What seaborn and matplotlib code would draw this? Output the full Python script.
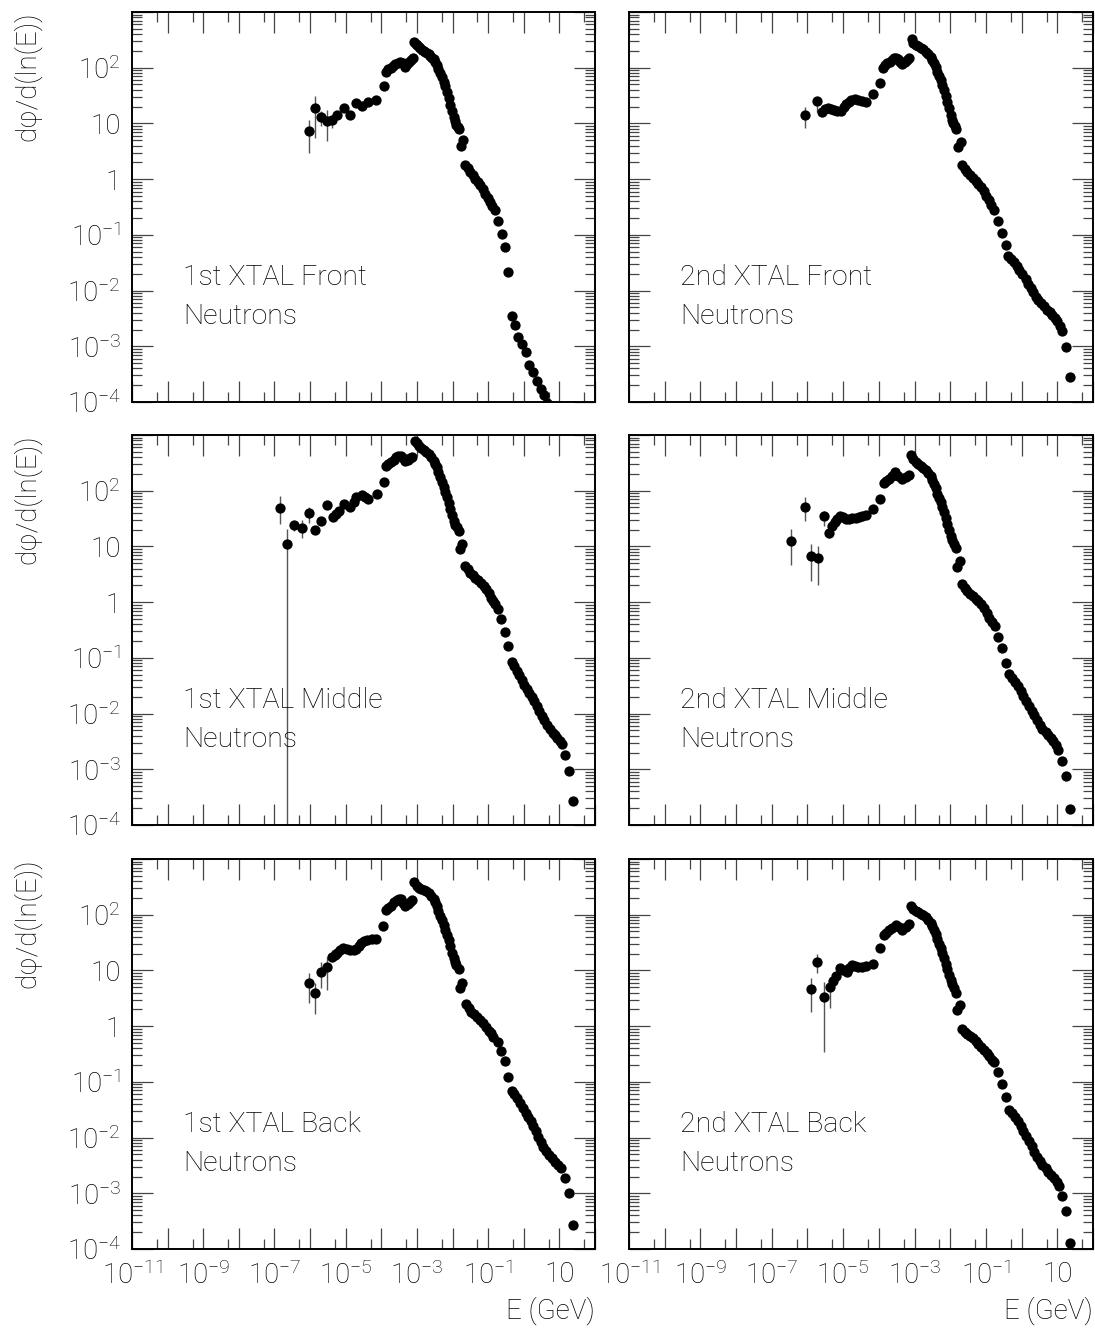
import numpy as np
import matplotlib
matplotlib.use("Agg")
import matplotlib.pyplot as plt
import matplotlib.ticker as mticker
import seaborn as sns

# Values as log10(E / GeV) and log10(dphi/dlnE)

# 1st XTAL Front
tl_logE = [-6.04, -5.85, -5.69, -5.52, -5.38, -5.24, -5.06, -4.87, -4.70, -4.54, -4.36, -4.14,
           -3.93, -3.86, -3.80, -3.73, -3.67, -3.61, -3.54, -3.47, -3.40, -3.33, -3.27, -3.21,
           -3.16, -3.11, -3.07, -3.03, -2.99, -2.95, -2.90, -2.85, -2.81, -2.76, -2.71, -2.67,
           -2.62, -2.57, -2.53, -2.48, -2.44, -2.40, -2.35, -2.30, -2.25, -2.21, -2.16, -2.11,
           -2.07, -2.02, -1.97, -1.93, -1.90, -1.86, -1.82, -1.72, -1.76, -1.64, -1.57, -1.50,
           -1.43, -1.36, -1.29, -1.22, -1.15, -1.08, -1.01, -0.94, -0.88, -0.82, -0.71, -0.62,
           -0.52, -0.45, -0.34, -0.24, -0.15, -0.05, 0.05, 0.16, 0.27, 0.36, 0.48, 0.57, 0.66]
tl_logF = [0.87, 1.27, 1.12, 1.04, 1.06, 1.15, 1.28, 1.16, 1.36, 1.32, 1.38, 1.42,
           1.68, 1.93, 1.97, 2.00, 2.03, 2.06, 2.09, 2.11, 2.08, 2.02, 2.07, 2.11,
           2.14, 2.17, 2.46, 2.42, 2.40, 2.38, 2.35, 2.32, 2.30, 2.28, 2.26, 2.24,
           2.21, 2.18, 2.15, 2.11, 2.05, 1.98, 1.90, 1.83, 1.75, 1.67, 1.57, 1.45,
           1.33, 1.23, 1.12, 1.04, 0.97, 0.93, 0.90, 0.70, 0.59, 0.26, 0.20, 0.13,
           0.07, 0.01, -0.05, -0.11, -0.18, -0.26, -0.33, -0.41, -0.48, -0.56, -0.75, -0.98,
           -1.21, -1.66, -2.46, -2.62, -2.84, -2.96, -3.10, -3.34, -3.46, -3.63, -3.76, -3.88, -4.02]
tl_err_logE = [-6.04, -5.85, -5.69, -5.52, -5.38]
tl_err_lo = [0.47, 0.73, 0.95, 0.68, 0.91]
tl_err_hi = [1.07, 1.50, 1.22, 1.24, 1.15]

# 2nd XTAL Front
tr_logE = [-6.07, -5.72, -5.59, -5.50, -5.42, -5.34, -5.26, -5.16, -5.07, -4.99, -4.93, -4.85,
           -4.77, -4.67, -4.58, -4.47, -4.37, -4.16, -3.97, -3.89, -3.83, -3.77, -3.70, -3.64,
           -3.58, -3.53, -3.46, -3.40, -3.35, -3.28, -3.22, -3.16, -3.08, -3.03, -2.97, -2.90,
           -2.83, -2.76, -2.69, -2.62, -2.55, -2.50, -2.46, -2.41, -2.36, -2.32, -2.27, -2.22,
           -2.18, -2.13, -2.08, -2.03, -1.99, -1.95, -1.92, -1.87, -1.83, -1.71, -1.78, -1.68,
           -1.60, -1.52, -1.44, -1.36, -1.28, -1.21, -1.13, -1.06, -0.99, -0.92, -0.85, -0.77,
           -0.67, -0.56, -0.45, -0.37, -0.29, -0.21, -0.13, -0.06, 0.02, 0.11, 0.18, 0.25,
           0.32, 0.39, 0.46, 0.53, 0.62, 0.72, 0.79, 0.86, 0.93, 1.00, 1.07, 1.14, 1.23, 1.35]
tr_logF = [1.15, 1.40, 1.21, 1.25, 1.27, 1.25, 1.24, 1.23, 1.22, 1.29, 1.34, 1.38,
           1.42, 1.43, 1.42, 1.41, 1.39, 1.53, 1.72, 2.00, 2.04, 2.08, 2.11, 2.14,
           2.17, 2.18, 2.16, 2.10, 2.06, 2.11, 2.14, 2.17, 2.51, 2.44, 2.41, 2.39,
           2.36, 2.33, 2.29, 2.25, 2.20, 2.14, 2.08, 2.01, 1.93, 1.86, 1.78, 1.69,
           1.60, 1.50, 1.39, 1.27, 1.15, 1.07, 1.00, 0.95, 0.90, 0.67, 0.58, 0.25,
           0.19, 0.13, 0.08, 0.02, -0.03, -0.08, -0.15, -0.22, -0.30, -0.38, -0.47, -0.56,
           -0.76, -0.96, -1.19, -1.38, -1.43, -1.49, -1.56, -1.63, -1.71, -1.80, -1.88, -1.96,
           -2.03, -2.11, -2.17, -2.23, -2.28, -2.34, -2.38, -2.43, -2.49, -2.55, -2.63, -2.73, -3.01, -3.56]
tr_err_logE = [-6.07, -5.72]
tr_err_lo = [0.91, 1.21]
tr_err_hi = [1.30, 1.45]

# 1st XTAL Middle
ml_logE = [-6.85, -6.64, -6.44, -6.22, -6.04, -5.87, -5.69, -5.52, -5.37, -5.28, -5.20, -5.06,
           -4.87, -4.78, -4.70, -4.54, -4.45, -4.36, -4.12, -3.93, -3.86, -3.80, -3.73, -3.65,
           -3.58, -3.52, -3.45, -3.39, -3.33, -3.26, -3.20, -3.14, -3.05, -3.00, -2.95, -2.88,
           -2.81, -2.74, -2.67, -2.60, -2.53, -2.48, -2.44, -2.40, -2.35, -2.30, -2.25, -2.21,
           -2.16, -2.11, -2.07, -2.02, -1.97, -1.92, -1.88, -1.82, -1.74, -1.78, -1.64, -1.57,
           -1.50, -1.43, -1.36, -1.28, -1.21, -1.13, -1.06, -0.99, -0.93, -0.86, -0.80, -0.71,
           -0.63, -0.54, -0.45, -0.34, -0.27, -0.20, -0.13, -0.06, 0.01, 0.08, 0.15, 0.22,
           0.29, 0.36, 0.43, 0.50, 0.58, 0.66, 0.73, 0.81, 0.88, 0.94, 1.01, 1.07, 1.16, 1.28, 1.37]
ml_logF = [1.69, 1.05, 1.39, 1.33, 1.60, 1.30, 1.46, 1.74, 1.52, 1.58, 1.63, 1.76,
           1.71, 1.80, 1.89, 1.93, 1.88, 1.85, 1.95, 2.16, 2.45, 2.48, 2.51, 2.56,
           2.60, 2.62, 2.63, 2.58, 2.53, 2.56, 2.58, 2.60, 2.90, 2.85, 2.81, 2.77,
           2.73, 2.70, 2.66, 2.60, 2.54, 2.48, 2.42, 2.33, 2.24, 2.15, 2.06, 1.97,
           1.88, 1.78, 1.67, 1.56, 1.46, 1.39, 1.34, 1.28, 1.04, 0.95, 0.65, 0.59,
           0.53, 0.48, 0.43, 0.39, 0.34, 0.29, 0.23, 0.16, 0.08, 0.02, -0.04, -0.13,
           -0.31, -0.53, -0.78, -1.08, -1.15, -1.23, -1.31, -1.40, -1.48, -1.56, -1.63, -1.71,
           -1.78, -1.86, -1.95, -2.04, -2.12, -2.20, -2.27, -2.34, -2.39, -2.44, -2.50, -2.55, -2.74, -3.03, -3.57]
ml_err_logE = [-6.85, -6.64, -6.44, -6.22, -6.04]
ml_err_lo = [1.40, -6.00, 1.28, 1.15, 1.42]
ml_err_hi = [1.91, 1.31, 1.46, 1.47, 1.70]

# 2nd XTAL Middle
mr_logE = [-6.45, -6.07, -5.89, -5.70, -5.54, -5.40, -5.32, -5.24, -5.16, -5.09, -5.00, -4.92,
           -4.83, -4.75, -4.65, -4.56, -4.47, -4.37, -4.16, -3.97, -3.86, -3.79, -3.72, -3.63,
           -3.55, -3.45, -3.35, -3.25, -3.16, -3.10, -3.03, -2.97, -2.90, -2.83, -2.76, -2.69,
           -2.62, -2.55, -2.50, -2.46, -2.41, -2.36, -2.32, -2.27, -2.22, -2.18, -2.13, -2.08,
           -2.03, -1.99, -1.94, -1.90, -1.83, -1.73, -1.81, -1.68, -1.60, -1.52, -1.44, -1.36,
           -1.28, -1.21, -1.13, -1.06, -0.98, -0.90, -0.83, -0.75, -0.65, -0.54, -0.45, -0.36,
           -0.28, -0.19, -0.11, -0.03, 0.05, 0.13, 0.20, 0.28, 0.36, 0.44, 0.51, 0.58,
           0.67, 0.75, 0.82, 0.88, 0.96, 1.03, 1.14, 1.23, 1.35]
mr_logF = [1.10, 1.71, 0.83, 0.79, 1.54, 1.25, 1.36, 1.43, 1.50, 1.55, 1.52, 1.49,
           1.50, 1.51, 1.51, 1.52, 1.54, 1.57, 1.67, 1.85, 2.13, 2.17, 2.21, 2.27,
           2.33, 2.27, 2.21, 2.25, 2.29, 2.65, 2.57, 2.51, 2.48, 2.45, 2.41, 2.37,
           2.32, 2.27, 2.20, 2.12, 2.04, 1.95, 1.87, 1.79, 1.70, 1.61, 1.51, 1.40,
           1.29, 1.19, 1.11, 1.04, 0.97, 0.73, 0.63, 0.32, 0.26, 0.20, 0.15, 0.11,
           0.06, 0.02, -0.04, -0.11, -0.19, -0.28, -0.35, -0.43, -0.62, -0.83, -1.09, -1.29,
           -1.37, -1.44, -1.51, -1.59, -1.68, -1.78, -1.86, -1.95, -2.03, -2.12, -2.20, -2.28,
           -2.33, -2.38, -2.43, -2.49, -2.57, -2.66, -2.86, -3.12, -3.72]
mr_err_logE = [-6.45, -6.07, -5.89, -5.70, -5.54, -5.40]
mr_err_lo = [0.67, 1.45, 0.38, 0.30, 1.37, 1.16]
mr_err_hi = [1.31, 1.88, 1.04, 1.01, 1.64, 1.33]

# 1st XTAL Back
bl_logE = [-6.04, -5.87, -5.69, -5.52, -5.38, -5.31, -5.24, -5.15, -5.07, -4.97, -4.87, -4.78,
           -4.70, -4.63, -4.57, -4.48, -4.40, -4.27, -4.14, -3.95, -3.86, -3.80, -3.73, -3.64,
           -3.56, -3.50, -3.44, -3.38, -3.33, -3.26, -3.20, -3.14, -3.07, -3.01, -2.95, -2.88,
           -2.81, -2.74, -2.67, -2.60, -2.53, -2.48, -2.44, -2.40, -2.35, -2.30, -2.25, -2.21,
           -2.16, -2.11, -2.07, -2.02, -1.97, -1.93, -1.90, -1.83, -1.74, -1.78, -1.62, -1.55,
           -1.48, -1.40, -1.32, -1.23, -1.15, -1.07, -0.99, -0.92, -0.85, -0.73, -0.64, -0.54,
           -0.45, -0.34, -0.27, -0.20, -0.11, -0.03, 0.05, 0.13, 0.20, 0.27, 0.34, 0.41,
           0.48, 0.55, 0.63, 0.72, 0.80, 0.88, 0.96, 1.04, 1.17, 1.27, 1.37]
bl_logF = [0.78, 0.59, 0.98, 1.06, 1.24, 1.28, 1.31, 1.36, 1.40, 1.39, 1.37, 1.37,
           1.38, 1.44, 1.50, 1.53, 1.55, 1.56, 1.56, 1.80, 2.09, 2.12, 2.16, 2.22,
           2.27, 2.28, 2.28, 2.21, 2.15, 2.20, 2.23, 2.26, 2.58, 2.52, 2.48, 2.46,
           2.44, 2.42, 2.39, 2.34, 2.28, 2.22, 2.15, 2.07, 1.98, 1.90, 1.82, 1.73,
           1.64, 1.54, 1.43, 1.32, 1.22, 1.15, 1.10, 1.02, 0.77, 0.69, 0.40, 0.33,
           0.26, 0.21, 0.16, 0.11, 0.05, -0.01, -0.08, -0.13, -0.19, -0.28, -0.44, -0.63,
           -0.92, -1.16, -1.22, -1.29, -1.38, -1.47, -1.55, -1.63, -1.71, -1.80, -1.89, -1.99,
           -2.08, -2.17, -2.24, -2.31, -2.37, -2.43, -2.49, -2.55, -2.73, -3.00, -3.57]
bl_err_logE = [-6.04, -5.87, -5.69, -5.52, -5.38]
bl_err_lo = [0.41, 0.22, 0.68, 0.64, 1.16]
bl_err_hi = [0.95, 0.77, 1.16, 1.25, 1.37]

# 2nd XTAL Back
br_logE = [-5.89, -5.72, -5.54, -5.38, -5.29, -5.21, -5.09, -5.00, -4.90, -4.83, -4.75, -4.67,
           -4.58, -4.48, -4.37, -4.16, -3.97, -3.86, -3.79, -3.72, -3.62, -3.53, -3.44, -3.35,
           -3.25, -3.16, -3.10, -3.03, -2.97, -2.90, -2.83, -2.76, -2.69, -2.62, -2.55, -2.50,
           -2.46, -2.41, -2.36, -2.32, -2.27, -2.22, -2.18, -2.13, -2.08, -2.03, -1.99, -1.94,
           -1.90, -1.83, -1.73, -1.80, -1.68, -1.60, -1.52, -1.44, -1.36, -1.28, -1.21, -1.13,
           -1.06, -0.98, -0.90, -0.83, -0.77, -0.66, -0.55, -0.45, -0.36, -0.27, -0.19, -0.11,
           -0.03, 0.05, 0.13, 0.20, 0.28, 0.36, 0.44, 0.51, 0.58, 0.67, 0.75, 0.83,
           0.91, 0.98, 1.05, 1.14, 1.23, 1.35]
br_logF = [0.66, 1.16, 0.53, 0.71, 0.81, 0.90, 1.04, 1.01, 0.98, 1.04, 1.10, 1.08,
           1.06, 1.07, 1.08, 1.12, 1.40, 1.64, 1.68, 1.72, 1.77, 1.82, 1.78, 1.73,
           1.78, 1.84, 2.16, 2.10, 2.06, 2.04, 2.02, 1.99, 1.96, 1.91, 1.86, 1.80,
           1.73, 1.65, 1.56, 1.48, 1.40, 1.31, 1.22, 1.12, 1.02, 0.92, 0.83, 0.75,
           0.68, 0.60, 0.38, 0.29, -0.05, -0.10, -0.14, -0.18, -0.22, -0.27, -0.32, -0.37,
           -0.43, -0.48, -0.54, -0.60, -0.65, -0.83, -1.04, -1.28, -1.50, -1.56, -1.63, -1.71,
           -1.80, -1.89, -1.98, -2.07, -2.16, -2.25, -2.34, -2.42, -2.49, -2.55, -2.61, -2.67,
           -2.73, -2.80, -2.87, -3.05, -3.31, -3.89]
br_err_logE = [-5.89, -5.72, -5.54, -5.38]
br_err_lo = [0.25, 0.95, -0.47, 0.32]
br_err_hi = [0.86, 1.30, 0.80, 0.89]

panel_titles = ["1st XTAL Front", "2nd XTAL Front", "1st XTAL Middle",
                "2nd XTAL Middle", "1st XTAL Back", "2nd XTAL Back"]
particle = "Neutrons"

x_tick_labels = [r"$10^{-11}$", "", r"$10^{-9}$", "", r"$10^{-7}$", "", r"$10^{-5}$", "",
                 r"$10^{-3}$", "", r"$10^{-1}$", "", "10", ""]
y_tick_labels = [r"$10^{-4}$", r"$10^{-3}$", r"$10^{-2}$", r"$10^{-1}$", "1", "10", r"$10^{2}$", ""]

panels = [
    (tl_logE, tl_logF, tl_err_logE, tl_err_lo, tl_err_hi),
    (tr_logE, tr_logF, tr_err_logE, tr_err_lo, tr_err_hi),
    (ml_logE, ml_logF, ml_err_logE, ml_err_lo, ml_err_hi),
    (mr_logE, mr_logF, mr_err_logE, mr_err_lo, mr_err_hi),
    (bl_logE, bl_logF, bl_err_logE, bl_err_lo, bl_err_hi),
    (br_logE, br_logF, br_err_logE, br_err_lo, br_err_hi),
]

sns.set_style("ticks")
plt.rcParams['font.family'] = ['Roboto', 'DejaVu Sans']
plt.rcParams['font.weight'] = 'light'
plt.rcParams['axes.labelweight'] = 'light'
plt.rcParams['mathtext.default'] = 'regular'
plt.rcParams['text.color'] = 'black'
plt.rcParams['axes.labelcolor'] = 'black'
plt.rcParams['xtick.color'] = '#444444'
plt.rcParams['ytick.color'] = '#444444'
plt.rcParams['xtick.labelcolor'] = 'black'
plt.rcParams['ytick.labelcolor'] = 'black'

fig = plt.figure(figsize=(10.95, 13.29), dpi=100)
W, H = 1095.0, 1329.0
col_left = [132 / W, 629 / W]
col_width = [463 / W, 464 / W]
row_bottom = [1 - 402 / H, 1 - 825 / H, 1 - 1249 / H]
row_height = 390 / H

for i, (logE, logF, eE, elo, ehi) in enumerate(panels):
    row, col = divmod(i, 2)
    ax = fig.add_axes([col_left[col], row_bottom[row], col_width[col], row_height])
    ax.set_xscale('log')
    ax.set_yscale('log')

    ax.vlines(10 ** np.array(eE), 10 ** np.array(elo), 10 ** np.array(ehi),
              color='#555555', linewidth=1.0, zorder=2)
    sns.scatterplot(x=10 ** np.array(logE), y=10 ** np.array(logF), ax=ax,
                    color='black', s=55, linewidth=0, zorder=3, legend=False)

    ax.set_xlim(1e-11, 1e2)
    ax.set_ylim(1e-4, 1e3)

    ax.set_xticks(10.0 ** np.arange(-11, 3))
    ax.set_yticks(10.0 ** np.arange(-4, 4))
    ax.xaxis.set_minor_locator(mticker.LogLocator(base=10, subs=[5.0], numticks=50))
    ax.yaxis.set_minor_locator(mticker.LogLocator(base=10, subs=np.arange(2, 10), numticks=50))
    ax.xaxis.set_minor_formatter(mticker.NullFormatter())
    ax.yaxis.set_minor_formatter(mticker.NullFormatter())
    ax.set_xticklabels(x_tick_labels if row == 2 else [""] * 14)
    ax.set_yticklabels(y_tick_labels if col == 0 else [""] * 8)

    ax.tick_params(which='both', direction='in', top=True, right=True, width=0.9)
    ax.tick_params(which='major', length=15, labelsize=20)
    ax.tick_params(which='minor', length=7.5)
    ax.tick_params(axis='x', which='major', pad=9)
    ax.tick_params(axis='y', which='major', pad=8)

    for sp in ax.spines.values():
        sp.set_linewidth(1.4)
        sp.set_color('black')

    ax.set_xlabel("")
    ax.set_ylabel("")
    if col == 0:
        ax.set_ylabel("dφ/d(ln(E))", fontsize=20, loc='top', fontweight='light')
        ax.yaxis.set_label_coords(-0.195, 1.0)
    if row == 2:
        ax.set_xlabel("E (GeV)", fontsize=20, loc='right', fontweight='light')
        ax.xaxis.set_label_coords(1.0, -0.122)

    ax.text(0.11, 0.30, panel_titles[i], transform=ax.transAxes, fontsize=20.5,
            va='baseline', ha='left', fontweight='light')
    ax.text(0.11, 0.20, particle, transform=ax.transAxes, fontsize=20.5,
            va='baseline', ha='left', fontweight='light')

fig.savefig("out.png", dpi=100)
